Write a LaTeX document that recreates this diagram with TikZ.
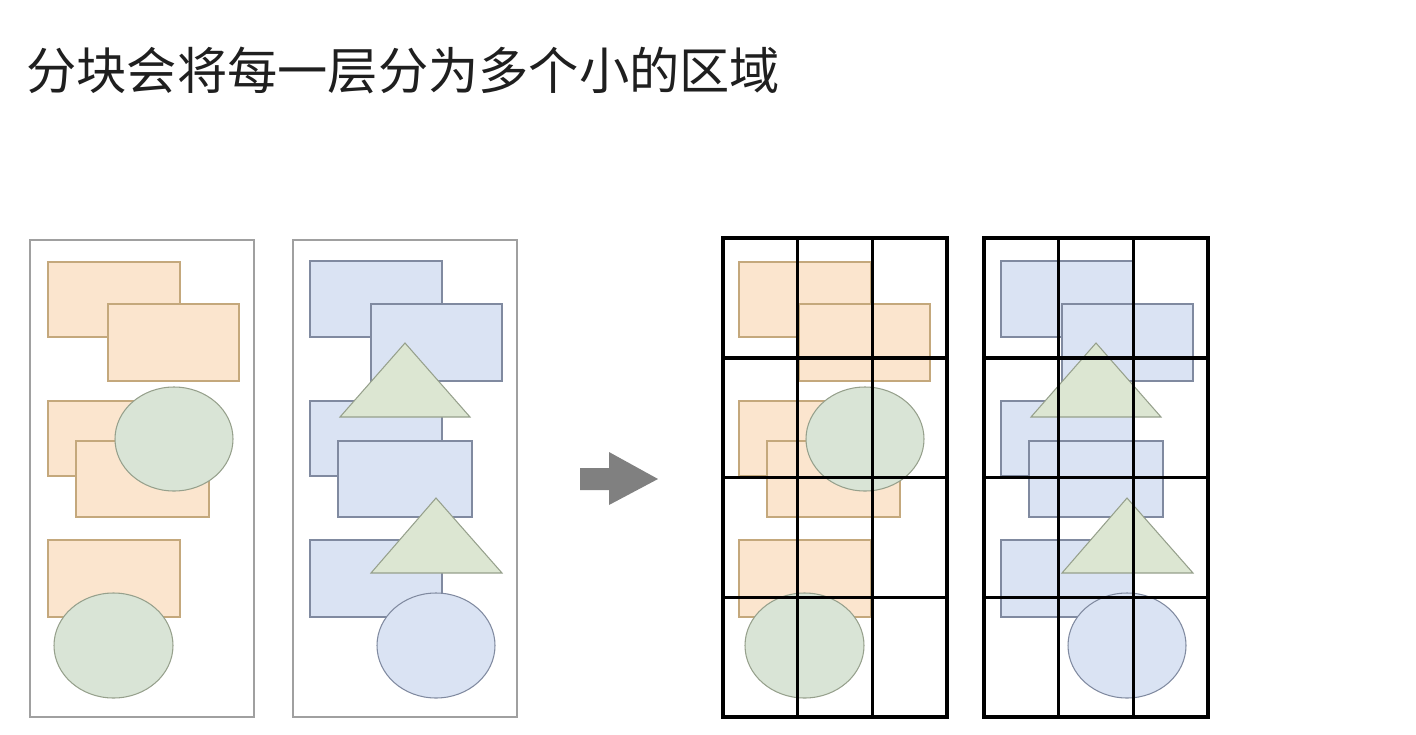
\documentclass[tikz,border=0pt]{standalone}
\usepackage{fontspec}
\newfontfamily\cjk{Noto Sans CJK SC}

\definecolor{peach}{RGB}{251,229,206}
\definecolor{peachline}{RGB}{196,168,124}
\definecolor{sage}{RGB}{217,228,214}
\definecolor{sageline}{RGB}{150,160,140}
\definecolor{paleblue}{RGB}{218,227,243}
\definecolor{blueline}{RGB}{128,138,160}
\definecolor{tri}{RGB}{220,230,210}
\definecolor{panelgray}{RGB}{160,160,160}
\definecolor{arrowgray}{RGB}{128,128,128}

\tikzset{
	orangebox/.style={draw=peachline, fill=peach, line width=0.6pt},
	bluebox/.style={draw=blueline, fill=paleblue, line width=0.6pt},
	greenoval/.style={draw=sageline, fill=sage, line width=0.6pt},
	blueoval/.style={draw=blueline, fill=paleblue, line width=0.6pt},
	greentri/.style={draw=sageline, fill=tri, line width=0.6pt},
	layerframe/.style={draw=panelgray, line width=0.9pt},
	gridline/.style={draw=black, line width=2pt},
	title/.style={anchor=base west, inner sep=0pt, text=black!88, font=\cjk\fontsize{28.6}{34}\selectfont}
}

\begin{document}
\begin{tikzpicture}[x=0.02cm, y=-0.02cm]
	\useasboundingbox (0,0) rectangle (1416,734);
	\node[title] (title) at (26,89) {分块会将每一层分为多个小的区域};

	% the two layers, before and after the split
	\draw[layerframe] (30,240) rectangle (254,717);
	\draw[layerframe] (293,240) rectangle (517,717);
	\foreach \dx in {0,691}{
		\begin{scope}[xshift=\dx*0.02cm]
			% orange layer
			\draw[orangebox] (48,262) rectangle (180,337);
			\draw[orangebox] (108,304) rectangle (239,381);
			\draw[orangebox] (48,401) rectangle (180,476);
			\draw[orangebox] (76,441) rectangle (209,517);
			\draw[greenoval] (174,439) ellipse [x radius=59, y radius=52];
			\draw[orangebox] (48,540) rectangle (180,617);
			\draw[greenoval] (113.5,645.5) ellipse [x radius=59.5, y radius=52.5];
			% blue layer
			\draw[bluebox] (310,261) rectangle (442,337);
			\draw[bluebox] (371,304) rectangle (502,381);
			\draw[bluebox] (310,401) rectangle (442,476);
			\draw[greentri] (340,417) -- (405,343) -- (470,417) -- cycle;
			\draw[bluebox] (338,441) rectangle (472,517);
			\draw[bluebox] (310,540) rectangle (442,617);
			\draw[greentri] (371,573) -- (436,498) -- (502,573) -- cycle;
			\draw[blueoval] (436,645.5) ellipse [x radius=59, y radius=52.5];
		\end{scope}
	}

	% arrow
	\fill[arrowgray] (580,468) -- (609,468) -- (609,452) -- (658,479) -- (609,505) -- (609,490) -- (580,490) -- cycle;

	% grids
	\foreach \gx in {723,984}{
		\draw[gridline] (\gx,238) rectangle ({\gx+224},717);
		\foreach \i in {1,2}
			\draw[gridline] ({\gx+\i*74.67},238) -- ({\gx+\i*74.67},717);
		\foreach \j in {1,2,3}
			\draw[gridline] (\gx,{238+\j*119.75}) -- ({\gx+224},{238+\j*119.75});
	}
\end{tikzpicture}
\end{document}
